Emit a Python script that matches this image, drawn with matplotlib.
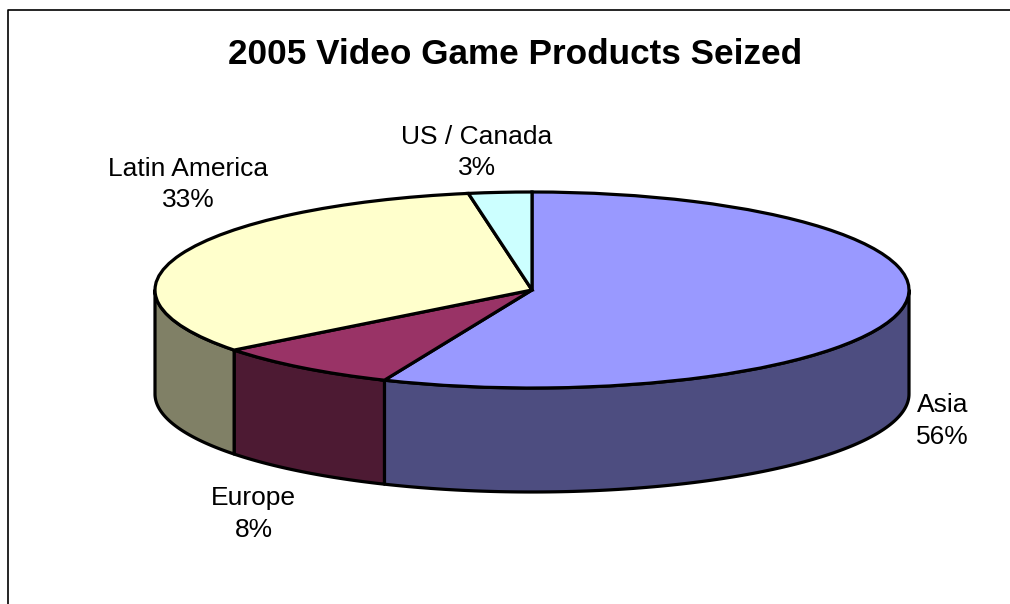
import numpy as np
import matplotlib
matplotlib.use("Agg")
import matplotlib.pyplot as plt

plt.rcParams['font.family'] = ['Liberation Sans', 'DejaVu Sans']

# share of seized products per region, clockwise from 12 o'clock
regions = ["Asia", "Europe", "Latin America", "US / Canada"]
shares = [56.4, 8.1, 32.8, 2.7]
top_colors = ["#9999FF", "#993366", "#FFFFCC", "#CCFFFF"]
side_colors = ["#4D4D80", "#4D1A33", "#808066", "#668080"]
label_pos = [(942.5, 421), (253.5, 514), (188, 184.5), (477, 152.5)]

W, H = 1010, 604
CX, CY = 532, 290      # pie centre in pixels
RX, RY = 377, 98       # ellipse radii
DEPTH = 104            # height of the rim

fig = plt.figure(figsize=(W / 100, H / 100), dpi=100)
ax = fig.add_axes([0, 0, 1, 1])

# top face is a normal pie, the axes limits squash it into an ellipse
ax.pie(shares, colors=top_colors, startangle=90, counterclock=False,
       wedgeprops=dict(edgecolor="black", linewidth=2.3, zorder=3))
ax.set_aspect("auto")
ax.set_xlim(-CX / RX, (W - CX) / RX)
ax.set_ylim(-(H - CY) / RY, CY / RY)
ax.axis("off")
drop = DEPTH / RY

# rim: only the part of each slice on the front half is visible
edges = np.cumsum([0] + shares) / sum(shares) * 2 * np.pi
for i in range(len(shares)):
    a0 = max(edges[i], np.pi / 2)
    a1 = min(edges[i + 1], 3 * np.pi / 2)
    if a1 <= a0:
        continue
    t = np.linspace(a0, a1, 120)
    x = np.sin(t)
    y = np.cos(t)
    ax.fill(np.r_[x, x[::-1]], np.r_[y, y[::-1] - drop],
            facecolor=side_colors[i], edgecolor="black", linewidth=2.3,
            joinstyle="round", zorder=2)

for name, share, (px, py) in zip(regions, shares, label_pos):
    fig.text(px / W, 1 - py / H, f"{name}\n{share:.0f}%", fontsize=19.0, ha="center",
             va="center", linespacing=1.38, color="black")

fig.text(515 / W, 1 - 54 / H, "2005 Video Game Products Seized", fontsize=25.3,
         fontweight="bold", ha="center", va="center")

# chart frame, open at the right and bottom
ax.add_line(plt.Line2D([7.5 / W, 7.5 / W, 1], [0, 1 - 9.5 / H, 1 - 9.5 / H],
                       transform=fig.transFigure, color="black", linewidth=1.2,
                       clip_on=False))

fig.savefig("out.png", dpi=100)
